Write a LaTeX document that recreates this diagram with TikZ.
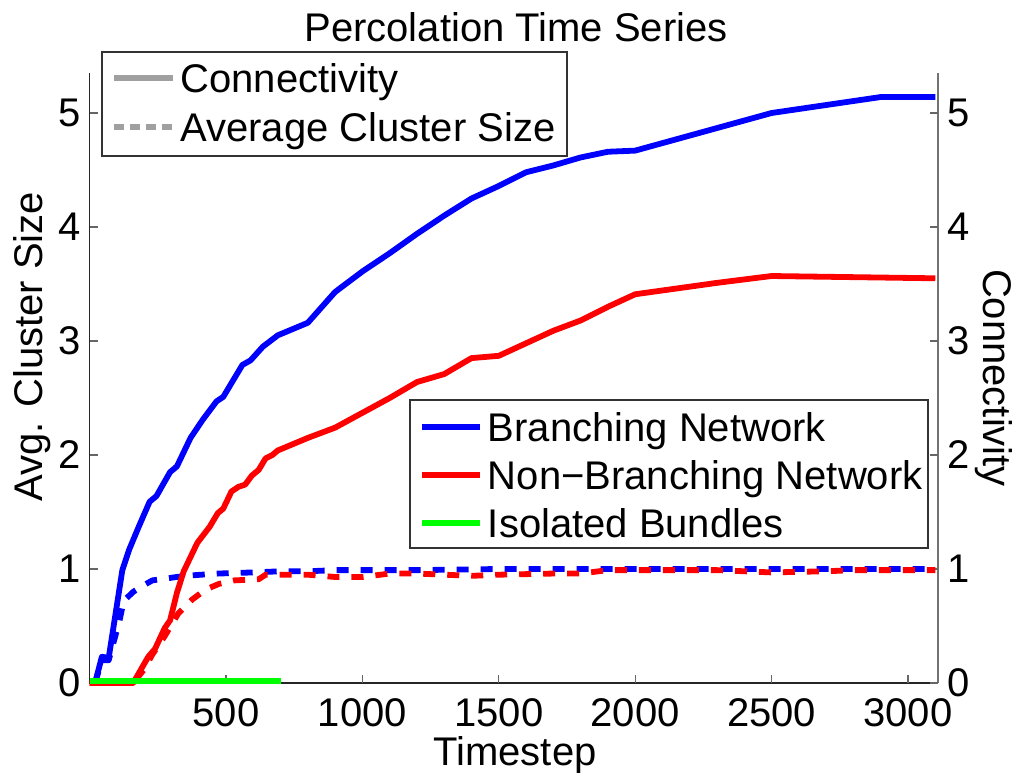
\documentclass[tikz,border=0pt]{standalone}
\usepackage{fontspec}
\setmainfont{Liberation Sans}
\definecolor{plotblue}{RGB}{0,0,255}
\definecolor{plotred}{RGB}{255,0,0}
\definecolor{plotgreen}{RGB}{0,255,0}
\definecolor{leggray}{RGB}{160,160,160}
\tikzset{
    curve/.style={
            line width=2.9pt,
            {#1},
            line join=round
        },
    curve/.default={plotblue}
}
\tikzset{
    avgcurve/.style={
            curve={#1},
            dash pattern=on 6pt off 6pt
        },
    avgcurve/.default={plotblue}
}
\tikzset{
    legbox/.style={
            draw=black!80,
            fill=white,
            line width=0.6pt
        }
}
\tikzset{
    axisline/.style={
            draw={#1},
            line width=0.6pt
        },
    axisline/.default={black!85}
}
\tikzset{
    lbl/.style={
            inner sep=0pt, % text box only
            font=\fontsize{20}{24}\selectfont
        },
}

\begin{document}
\begin{tikzpicture}[x=1pt, y=1pt]
    \useasboundingbox (0,0) rectangle (509,386);
    %
    \node[lbl] (title) at (258,372.5) {Percolation Time Series};
    \node[lbl, anchor=base] (xlabel) at (257.5,3.5) {Timestep};
    \node[lbl, rotate=90] (ylabelL) at (16,212.5) {Avg. Cluster Size};
    \node[lbl, rotate=-90] (ylabelR) at (497,197) {Connectivity};
    %
    \begin{scope}[xshift=44.8pt, yshift=44.5pt, x=0.1364pt, y=57pt]
        \coordinate (orig) at (0,0);
        \coordinate (xend) at (3110,0);
        \coordinate (ltop) at (0,5.35);
        \coordinate (rtop) at (3110,5.35);
        %
        \draw[axisline] (ltop) -- (orig) -- (xend);
        \draw[axisline=black!55] (xend) -- (rtop);
        \foreach \t in {500,1000,...,3000} {
            \draw[axisline=black!60] (\t,0) -- ++(0,4pt);
            \node[lbl] at (\t,-0.263) {\t};
        }
        \foreach \v in {0,...,5} {
            \draw[axisline=black!60] (0,\v) -- ++(4pt,0);
            \draw[axisline=black!60] (3110,\v) -- ++(-4pt,0);
            \node[lbl, anchor=east, xshift=-4pt] at (0,\v) {\v};
            \node[lbl, anchor=west, xshift=4.5pt] at (3110,\v) {\v};
        }
        %
        \draw[curve=plotblue] plot coordinates {(20,0) (45,0.23) (70,0.22) (120,0.99) (145,1.17) (180,1.37) (220,1.59) (245,1.64) (295,1.85) (320,1.90) (370,2.15) (415,2.31) (465,2.47) (490,2.51) (515,2.61) (560,2.79) (590,2.83) (635,2.95) (690,3.05) (800,3.16) (900,3.43) (1000,3.61) (1100,3.77) (1200,3.94) (1300,4.10) (1400,4.25) (1500,4.36) (1600,4.48) (1700,4.54) (1800,4.61) (1900,4.66) (2000,4.67) (2500,5.00) (2900,5.14) (3100,5.14)};
        \draw[avgcurve=plotblue] plot coordinates {(20,0) (45,0.2) (70,0.2) (110,0.55) (125,0.72) (160,0.80) (200,0.86) (230,0.90) (290,0.92) (350,0.94) (470,0.96) (600,0.97) (700,0.98) (800,0.98) (900,0.99) (1200,0.99) (1500,1.0) (3100,1.0)};
        \draw[curve=plotred] plot coordinates {(0,0) (160,0) (215,0.23) (240,0.30) (275,0.48) (295,0.55) (320,0.79) (345,0.98) (395,1.23) (440,1.37) (470,1.49) (490,1.53) (520,1.68) (545,1.72) (570,1.74) (595,1.82) (620,1.87) (645,1.97) (670,2.00) (690,2.04) (800,2.15) (900,2.24) (1000,2.37) (1100,2.50) (1200,2.64) (1300,2.71) (1400,2.85) (1500,2.87) (1600,2.98) (1700,3.09) (1800,3.18) (1900,3.30) (2000,3.41) (2300,3.51) (2500,3.57) (3100,3.55)};
        \draw[avgcurve=plotred] plot coordinates {(0,0) (160,0) (200,0.12) (230,0.25) (275,0.41) (325,0.61) (375,0.73) (425,0.82) (475,0.87) (530,0.90) (620,0.91) (645,0.95) (800,0.95) (900,0.93) (1000,0.93) (1100,0.96) (1200,0.96) (1300,0.95) (1400,0.94) (1500,0.95) (1700,0.96) (1800,0.96) (1900,0.99) (2300,0.99) (2500,0.97) (2700,0.98) (2800,0.99) (3100,0.99)};
        \draw[curve=plotgreen] (0,0.02) -- (700,0.02);
    \end{scope}
    %
    % legend: line styles
    \draw[legbox] (51,308) rectangle (283.5,360);
    \draw[curve=leggray] (57,347) -- (86.4,347);
    \node[lbl, anchor=base west] (lgconn) at (90,339.8) {Connectivity};
    \draw[curve=leggray, dash pattern=on 5pt off 3pt] (57,322.5) -- (86.4,322.5);
    \node[lbl, anchor=base west] (lgavg) at (90,315.3) {Average Cluster Size};
    %
    % legend: networks
    \draw[legbox] (205,112) rectangle (464,186);
    \draw[curve=plotblue] (211,172.5) -- (240,172.5);
    \node[lbl, anchor=base west] (lgbranch) at (243.75,165.3) {Branching Network};
    \draw[curve=plotred] (211,148.5) -- (240,148.5);
    \node[lbl, anchor=base west] (lgnonbranch) at (243.75,141.3) {Non−Branching Network};
    \draw[curve=plotgreen] (211,124.5) -- (240,124.5);
    \node[lbl, anchor=base west] (lgisolated) at (243.75,117.3) {Isolated Bundles};
\end{tikzpicture}
\end{document}
